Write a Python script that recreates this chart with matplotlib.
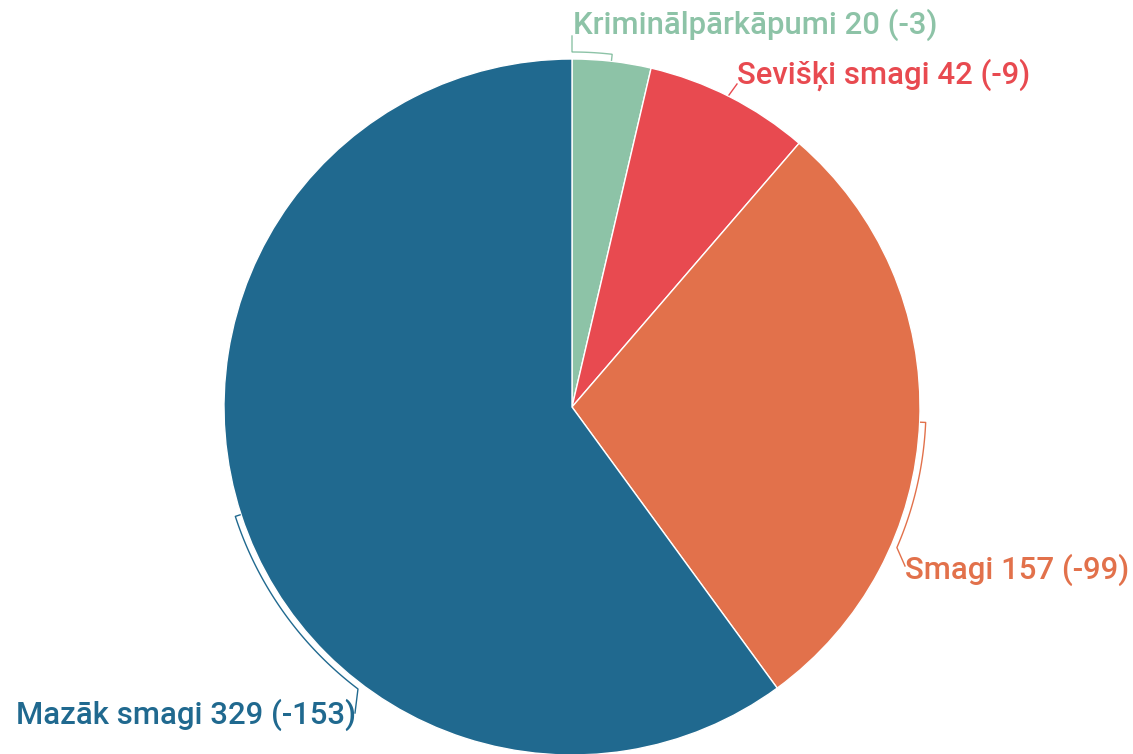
import numpy as np
import matplotlib
matplotlib.use("Agg")
import matplotlib.pyplot as plt
from matplotlib import font_manager as fm
import matplotlib.patheffects as pe

categories = ["Kriminālpārkāpumi", "Sevišķi smagi", "Smagi", "Mazāk smagi"]
values = [20, 42, 157, 329]
changes = [-3, -9, -99, -153]
colors = ["#8dc3a7", "#e84a50", "#e2714b", "#20698f"]

W, H = 1133, 754
fig = plt.figure(figsize=(W / 100, H / 100), dpi=100)
ax = fig.add_axes([0, 0, 1, 1])

cx, cy, R = 572, 407, 348  # screen coords
ax.pie(values, colors=colors, startangle=90, counterclock=False,
       center=(cx, H - cy), radius=R,
       wedgeprops=dict(edgecolor="white", linewidth=1.0))
ax.set_xlim(0, W)
ax.set_ylim(0, H)
ax.set_aspect("equal")
ax.axis("off")


def pt(theta, r):
    t = np.radians(theta)
    return cx + r * np.sin(t), H - (cy - r * np.cos(t))


def S(x, y):
    return x, H - y


def arc(t0, t1, r):
    ts = np.linspace(t0, t1, 60)
    xs, ys = zip(*[pt(t, r) for t in ts])
    return list(xs), list(ys)


lw = 1.0
# Kriminālpārkāpumi bracket
xs, ys = arc(0, 6.5, 355)
px, py = pt(6.5, 349)
ax.plot([S(572, 36)[0]] + xs + [px], [S(572, 36)[1]] + ys + [py],
        color=colors[0], lw=lw, solid_joinstyle="miter")
# Sevišķi smagi connector
a, b = S(729, 95), S(737, 84)
ax.plot([a[0], b[0]], [a[1], b[1]], color=colors[1], lw=lw)
# Smagi bracket
xs, ys = arc(92.5, 113.4, 354)
p0 = pt(92.5, 349)
e = S(905, 566)
ax.plot([p0[0]] + xs + [e[0]], [p0[1]] + ys + [e[1]], color=colors[2], lw=lw)
# Mazāk smagi bracket
xs, ys = arc(252, 217.2, 354)
p0 = pt(252, 349)
e = S(355, 713)
ax.plot([p0[0]] + xs + [e[0]], [p0[1]] + ys + [e[1]], color=colors[3], lw=lw)

# pick a medium Roboto face if installed
med = [f for f in fm.findSystemFonts() if "roboto" in f.lower() and "medium" in f.lower()
       and "italic" not in f.lower() and "condensed" not in f.lower()]
if med:
    fp = fm.FontProperties(fname=med[0])
    stroke = 0.0
else:
    fp = fm.FontProperties(family="Roboto", weight="regular")
    stroke = 0.7
fp.set_size(22.4)

labels = [f"{c} {v} ({d})" for c, v, d in zip(categories, values, changes)]
pos = [(573, 25, "left"), (737, 75, "left"), (905, 570, "left"), (356, 715, "right")]
for lab, (x, y, ha), col in zip(labels, pos, colors):
    t = ax.text(x, H - y, lab, ha=ha, va="center", color=col, fontproperties=fp)
    if stroke:
        t.set_path_effects([pe.withStroke(linewidth=stroke, foreground=col)])

fig.savefig("out.png", dpi=100)
